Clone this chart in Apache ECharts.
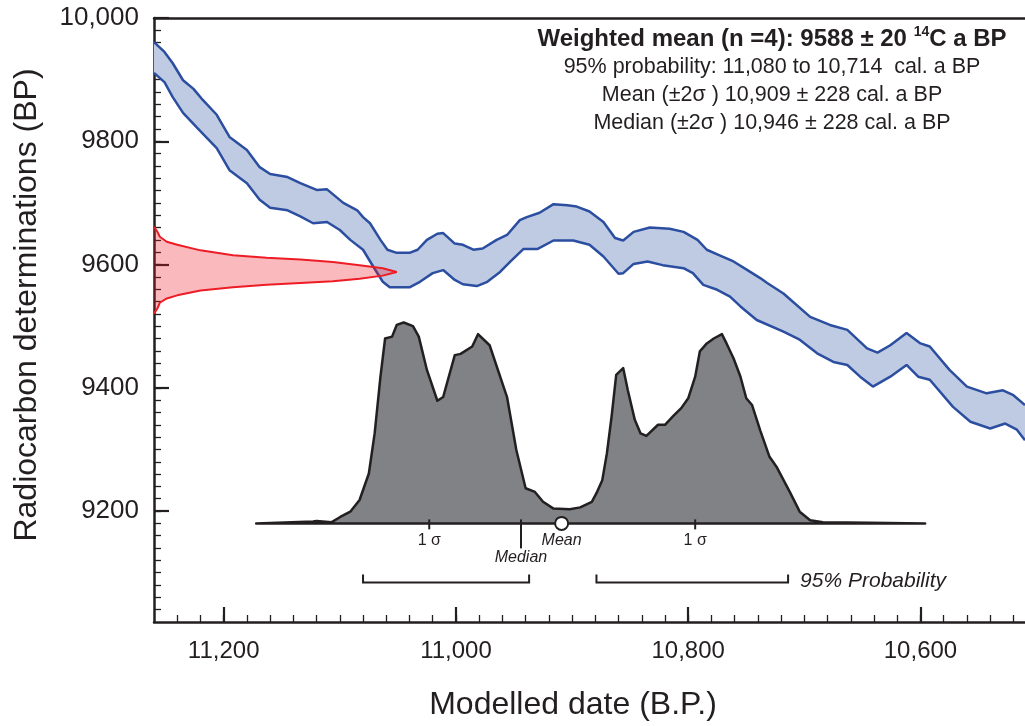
<!DOCTYPE html>
<html><head><meta charset="utf-8">
<script src="https://cdn.jsdelivr.net/npm/echarts@6.0.0/dist/echarts.min.js"></script>
<style>html,body{margin:0;padding:0;background:#fff}#c{width:1025px;height:726px}</style>
</head><body><div id="c"></div><script>
// ---- axis ticks / labels ----
const xTickValues = [11200, 11000, 10800, 10600];
const xTickLabels = ['11,200', '11,000', '10,800', '10,600'];
const yTickValues = [10000, 9800, 9600, 9400, 9200];
const yTickLabels = ['10,000', '9800', '9600', '9400', '9200'];
const xRange = [10510, 11260];
const yRange = [9020, 10000];
const minorStep = 20;

// ---- calibration curve band (cal BP, 14C BP) ----
const bandUpper = [[11260,9961],[11251,9945],[11244,9927],[11235,9899],[11226,9885],[11218,9867],[11206,9843],[11195,9807],[11180,9786],[11169,9758],[11160,9747],[11145,9742],[11134,9732],[11120,9721],[11111,9722],[11097,9700],[11085,9688],[11080,9677],[11074,9667],[11065,9640],[11059,9624],[11051,9619],[11040,9619],[11033,9624],[11025,9640],[11016,9650],[11011,9651],[11001,9634],[10994,9632],[10985,9624],[10977,9626],[10965,9640],[10956,9648],[10945,9672],[10939,9677],[10928,9684],[10916,9698],[10904,9696],[10896,9694],[10885,9686],[10873,9669],[10863,9643],[10856,9639],[10847,9653],[10833,9660],[10816,9658],[10804,9653],[10792,9640],[10784,9624],[10773,9615],[10761,9605],[10749,9591],[10738,9578],[10732,9570],[10718,9553],[10695,9515],[10678,9502],[10663,9494],[10646,9464],[10637,9457],[10626,9469],[10612,9489],[10600,9472],[10592,9467],[10575,9429],[10560,9402],[10543,9391],[10529,9396],[10520,9388],[10510,9372]];
const bandLower = [[11260,9911],[11251,9896],[11244,9872],[11235,9846],[11223,9822],[11206,9789],[11195,9753],[11180,9732],[11169,9705],[11160,9692],[11145,9688],[11134,9678],[11123,9667],[11111,9669],[11100,9656],[11091,9640],[11080,9624],[11071,9596],[11063,9572],[11057,9563],[11040,9563],[11031,9572],[11020,9586],[11011,9591],[11001,9575],[10994,9568],[10982,9565],[10973,9572],[10962,9588],[10953,9605],[10942,9625],[10930,9625],[10916,9639],[10899,9639],[10885,9632],[10873,9613],[10860,9585],[10856,9586],[10847,9601],[10835,9605],[10822,9599],[10804,9594],[10796,9586],[10787,9567],[10775,9559],[10764,9548],[10755,9532],[10741,9510],[10718,9491],[10704,9478],[10689,9456],[10675,9442],[10663,9437],[10652,9418],[10641,9402],[10626,9418],[10612,9437],[10602,9418],[10592,9413],[10572,9369],[10557,9345],[10540,9334],[10527,9342],[10517,9332],[10510,9315]];

// ---- radiocarbon measurement distribution (9588 ± 20) ----
const measUpper = [[11260,9661],[11257,9653],[11255,9645],[11249,9637],[11240,9632],[11220,9623],[11192,9615],[11163,9611],[11134,9608],[11106,9604],[11083,9599],[11063,9594],[11051,9588]];
const measLower = [[11063,9582],[11083,9577],[11106,9573],[11134,9570],[11163,9567],[11192,9563],[11220,9558],[11240,9550],[11249,9545],[11255,9538],[11257,9529],[11260,9520]];

// ---- calibrated date distribution ----
const calBase = 9180;
const calDist = [[11172,9180],[11123,9183],[11120,9184],[11107,9182],[11100,9190],[11091,9199],[11083,9218],[11075,9261],[11070,9326],[11065,9418],[11061,9480],[11055,9483],[11051,9502],[11045,9506],[11037,9500],[11032,9483],[11025,9429],[11016,9379],[11011,9385],[11001,9453],[10996,9455],[10986,9467],[10981,9487],[10971,9469],[10956,9385],[10948,9299],[10940,9237],[10932,9231],[10925,9215],[10916,9204],[10902,9203],[10893,9206],[10883,9215],[10879,9229],[10874,9250],[10870,9294],[10866,9353],[10862,9421],[10856,9432],[10852,9396],[10846,9348],[10841,9326],[10836,9322],[10826,9340],[10820,9340],[10813,9354],[10806,9367],[10800,9383],[10794,9418],[10790,9459],[10784,9472],[10778,9480],[10771,9487],[10767,9472],[10761,9448],[10755,9418],[10750,9383],[10745,9372],[10738,9331],[10730,9288],[10724,9272],[10712,9229],[10704,9199],[10695,9185],[10684,9182],[10644,9181],[10596,9180]];

// ---- summary markers ----
const sigmaTicks = [11023, 10794];
const medianDate = 10944;
const meanDate = 10909;
const prob95 = [[11080, 10937], [10879, 10714]];

const FONT = "'Liberation Sans', Arial, Helvetica, sans-serif";
const INK = '#231f20';

const xMinor = [], yMinor = [];
for (let v = xRange[0] + 10; v < xRange[1]; v += minorStep) xMinor.push(v);
for (let v = yRange[0] + minorStep; v < yRange[1]; v += minorStep) yMinor.push(v);

function polySeries(points, style, z) {
  return {
    type: 'custom', coordinateSystem: 'cartesian2d', silent: true, z: z,
    data: [points[0]],
    renderItem: (params, api) => ({
      type: 'polygon',
      shape: { points: points.map(p => api.coord(p)) },
      style: style
    })
  };
}
function lineSeries(data, color, width, z) {
  return {
    type: 'line', data: data, showSymbol: false, symbol: 'none', silent: true, z: z,
    lineStyle: { color: color, width: width }
  };
}

const chart = echarts.init(document.getElementById('c'), null, { renderer: 'canvas' });
const xBase = {
  type: 'value', min: xRange[0], max: xRange[1], inverse: true,
  splitLine: { show: false }
};
const yBase = {
  type: 'value', min: yRange[0], max: yRange[1],
  splitLine: { show: false }
};

chart.setOption({
  animation: false,
  backgroundColor: '#fff',
  title: {
    left: 772, top: 25, padding: 0, textAlign: 'center',
    text: '{b|Weighted mean (n =4): 9588 ± 20 }{s|14}{b|C a BP}\n' +
          '{n|95% probability: 11,080 to 10,714  cal. a BP}\n' +
          '{n|Mean (±2σ ) 10,909 ± 228 cal. a BP}\n' +
          '{n|Median (±2σ ) 10,946 ± 228 cal. a BP}',
    textStyle: {
      fontFamily: FONT, color: INK, fontWeight: 'normal',
      rich: {
        b: { fontSize: 24, fontWeight: 'bold', lineHeight: 28, color: INK, fontFamily: FONT, align: 'center' },
        s: { fontSize: 14, fontWeight: 'bold', lineHeight: 18, verticalAlign: 'top', color: INK, fontFamily: FONT, align: 'center' },
        n: { fontSize: 21.5, fontWeight: 'normal', lineHeight: 28, color: INK, fontFamily: FONT, align: 'center' }
      }
    }
  },
  grid: { left: 154, right: 0, top: 18, bottom: 104, containLabel: false },
  xAxis: [
    Object.assign({}, xBase, {
      position: 'bottom',
      axisLine: { show: true, onZero: false, lineStyle: { color: INK, width: 2.5 } },
      axisTick: { show: true, inside: true, length: 7, customValues: xMinor, lineStyle: { color: INK, width: 1.3 } },
      axisLabel: {
        show: true, customValues: xTickValues, margin: 17,
        formatter: v => xTickLabels[xTickValues.indexOf(v)] || '',
        fontSize: 24, color: INK, fontFamily: FONT
      },
      name: 'Modelled date (B.P.)', nameLocation: 'middle', nameGap: 67,
      nameTextStyle: { fontSize: 32, color: INK, fontFamily: FONT, padding: [0, 33, 0, 0] }
    }),
    Object.assign({}, xBase, {
      position: 'bottom',
      axisLine: { show: false, onZero: false },
      axisTick: { show: true, inside: true, length: 15, customValues: xTickValues, lineStyle: { color: INK, width: 2.2 } },
      axisLabel: { show: false }
    }),
    Object.assign({}, xBase, {
      position: 'top',
      axisLine: { show: true, onZero: false, lineStyle: { color: INK, width: 2.5 } },
      axisTick: { show: false }, axisLabel: { show: false }
    })
  ],
  yAxis: [
    Object.assign({}, yBase, {
      position: 'left',
      axisLine: { show: true, onZero: false, lineStyle: { color: INK, width: 2.5 } },
      axisTick: { show: true, inside: true, length: 7, customValues: yMinor, lineStyle: { color: INK, width: 1.3 } },
      axisLabel: {
        show: true, customValues: yTickValues, margin: 15,
        formatter: v => yTickLabels[yTickValues.indexOf(v)] || '',
        fontSize: 26, color: INK, fontFamily: FONT
      },
      name: 'Radiocarbon determinations (BP)', nameLocation: 'middle', nameRotate: 90, nameGap: 111,
      nameTextStyle: { fontSize: 32, color: INK, fontFamily: FONT, padding: [0, 0, 0, 30] }
    }),
    Object.assign({}, yBase, {
      position: 'left',
      axisLine: { show: false, onZero: false },
      axisTick: { show: true, inside: true, length: 15, customValues: yTickValues, lineStyle: { color: INK, width: 2.2 } },
      axisLabel: { show: false }
    })
  ],
  series: [
    polySeries(bandUpper.concat(bandLower.slice().reverse()), { fill: '#bfcbe3', stroke: null }, 1),
    lineSeries(bandUpper, '#2b4ea0', 2.5, 2),
    lineSeries(bandLower, '#2b4ea0', 2.5, 2),
    polySeries(measUpper.concat(measLower), { fill: 'rgba(238,28,37,0.3)', stroke: null }, 3),
    lineSeries(measUpper.concat(measLower), '#ee1c25', 2, 3),
    polySeries(calDist, { fill: '#808285', stroke: INK, lineWidth: 2.5, lineJoin: 'round' }, 3),
    {
      type: 'custom', coordinateSystem: 'cartesian2d', silent: true, z: 5,
      data: sigmaTicks.map(v => [v, calBase]),
      renderItem: (params, api) => {
        const c = api.coord([api.value(0), api.value(1)]);
        return { type: 'group', children: [
          { type: 'line', shape: { x1: c[0], y1: c[1] - 4, x2: c[0], y2: c[1] + 6 }, style: { stroke: INK, lineWidth: 2 } },
          { type: 'text', x: c[0], y: c[1] + 17, style: { text: '1 σ', fontSize: 16, fontFamily: FONT, fill: INK, align: 'center', verticalAlign: 'middle' } }
        ] };
      }
    },
    {
      type: 'custom', coordinateSystem: 'cartesian2d', silent: true, z: 5,
      data: [[medianDate, calBase]],
      renderItem: (params, api) => {
        const c = api.coord([api.value(0), api.value(1)]);
        return { type: 'group', children: [
          { type: 'line', shape: { x1: c[0], y1: c[1] - 4, x2: c[0], y2: c[1] + 25 }, style: { stroke: INK, lineWidth: 2 } },
          { type: 'text', x: c[0], y: c[1] + 34, style: { text: 'Median', fontSize: 16, fontStyle: 'italic', fontFamily: FONT, fill: INK, align: 'center', verticalAlign: 'middle' } }
        ] };
      }
    },
    {
      type: 'custom', coordinateSystem: 'cartesian2d', silent: true, z: 6,
      data: [[meanDate, calBase]],
      renderItem: (params, api) => {
        const c = api.coord([api.value(0), api.value(1)]);
        return { type: 'group', children: [
          { type: 'circle', shape: { cx: c[0], cy: c[1], r: 6.5 }, style: { fill: '#fff', stroke: INK, lineWidth: 2 } },
          { type: 'text', x: c[0], y: c[1] + 17.5, style: { text: 'Mean', fontSize: 16, fontStyle: 'italic', fontFamily: FONT, fill: INK, align: 'center', verticalAlign: 'middle' } }
        ] };
      }
    },
    {
      type: 'custom', coordinateSystem: 'cartesian2d', silent: true, z: 5,
      data: prob95.map(r => [r[0], calBase, r[1]]),
      renderItem: (params, api) => {
        const a = api.coord([api.value(0), api.value(1)]);
        const b = api.coord([api.value(2), api.value(1)]);
        const y = a[1] + 59;
        const children = [
          { type: 'polyline', shape: { points: [[a[0], y - 8], [a[0], y], [b[0], y], [b[0], y - 8]] }, style: { stroke: INK, lineWidth: 2, fill: null } }
        ];
        if (params.dataIndex === prob95.length - 1) {
          children.push({ type: 'text', x: b[0] + 12, y: y - 1, style: { text: '95% Probability', fontSize: 21, fontStyle: 'italic', fontFamily: FONT, fill: INK, align: 'left', verticalAlign: 'middle' } });
        }
        return { type: 'group', children: children };
      }
    }
  ]
});
</script></body></html>
